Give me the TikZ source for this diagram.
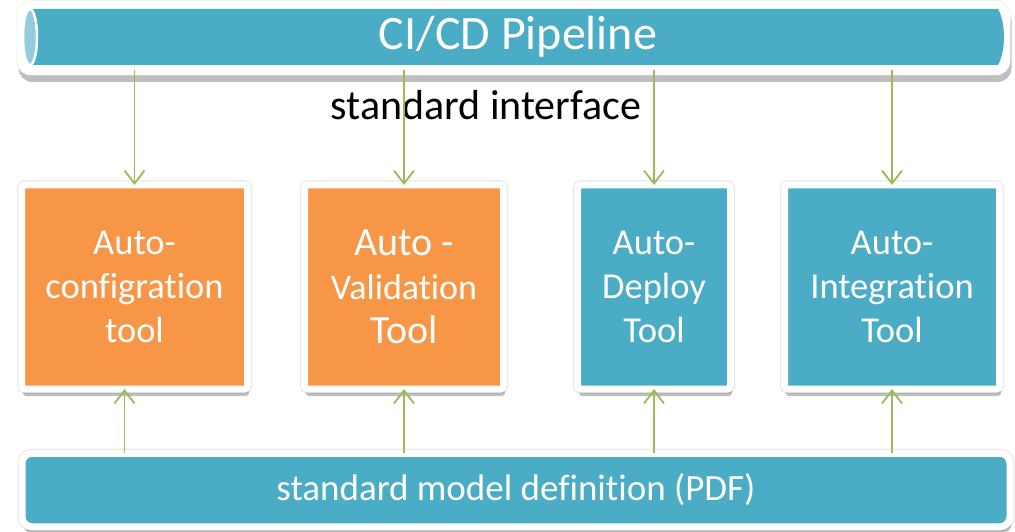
\documentclass[tikz,border=0pt]{standalone}
\usepackage{fontspec}
\setmainfont{Carlito}[Ligatures={NoCommon,NoContextual,NoRare},RawFeature={-calt}]
\usetikzlibrary{arrows.meta,shadows}
\definecolor{tealblue}{HTML}{4BACC6}
\definecolor{orangef}{HTML}{F79646}
\definecolor{greenl}{HTML}{9BBB59}
\definecolor{lightblue}{HTML}{93CDDD}
\begin{document}
\begin{tikzpicture}[x=1pt,y=1pt,
  frameshadow/.style={drop shadow={shadow xshift=1.5pt,shadow yshift=-7pt,opacity=0.25,fill=black}},
  framed/.style={draw=white,line width=7pt,preaction={draw=black!10,line width=9pt},frameshadow},
  toolbox/.style={framed,rounded corners=3pt,outer sep=0pt,inner sep=0pt,
    text=white,align=center,font=\fontsize{36.5}{44}\selectfont,minimum height=204pt},
  link/.style={draw=greenl,line width=1.8pt,-{Straight Barb[length=13pt,width=20pt,line width=1.8pt]}},
]
\useasboundingbox (0,0) rectangle (1015,531);
% pipe
\fill[white,frameshadow,preaction={draw=black!10,line width=1pt},rounded corners=14pt] (17,456) rectangle (1010,530);
\fill[tealblue] (30,466) -- (998,466) .. controls (1006,480) and (1006,508) .. (998,522) -- (30,522) -- cycle;
\draw[white,line width=2.5pt,fill=lightblue] (30,494) ellipse [x radius=7, y radius=28];
\node[minimum width=960,minimum height=56,inner sep=0pt,text=white,font=\fontsize{48}{58}\selectfont] (pipe) at (518,494) {CI/CD Pipeline};
\node[font=\fontsize{42}{50}\selectfont] (iface) at (486,426) {standard interface};
% tools
\node[toolbox,fill=orangef,minimum width=226] (b1) at (134.5,244) {Auto-\\configration\\tool};
\node[toolbox,fill=orangef,minimum width=199] (b2) at (404,244) {\fontsize{40}{47}\selectfont Auto -\\\fontsize{36}{47}\selectfont Validation\\\fontsize{40}{47}\selectfont Tool};
\node[toolbox,fill=tealblue,minimum width=153] (b3) at (654,244) {Auto-\\Deploy\\Tool};
\node[toolbox,fill=tealblue,minimum width=215] (b4) at (892,244) {Auto-\\Integration\\Tool};
% model bar
\node[framed,fill=tealblue,rounded corners=10pt,outer sep=0pt,inner sep=0pt,
  minimum width=988,minimum height=73.5,text=white,font=\fontsize{37}{44}\selectfont]
  (model) at (516,41) {standard model definition (PDF)};
% connectors
\foreach \b in {b1,b2,b3,b4}{
  \draw[link] ([yshift=-5pt]pipe.south -| \b.north) -- (\b.north);
}
\coordinate (b1s) at ([xshift=-10pt]b1.south);
\draw[link] (model.north -| b1s) -- (b1s);
\foreach \b in {b2,b3,b4}{
  \draw[link] (model.north -| \b.south) -- (\b.south);
}
\end{tikzpicture}
\end{document}
